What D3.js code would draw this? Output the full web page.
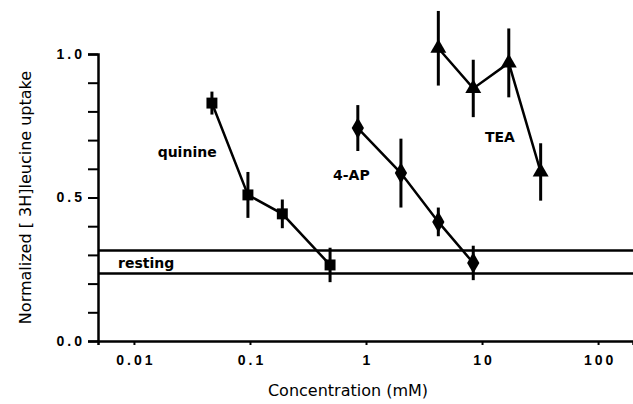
<!DOCTYPE html>
<html>
<head>
<meta charset="utf-8">
<script src="https://cdn.jsdelivr.net/npm/d3@7"></script>
<style>
  body { margin: 0; background: #fff; }
  svg { display: block; font-family: "DejaVu Sans", sans-serif; }
</style>
</head>
<body>
<svg id="chart" width="633" height="404"></svg>
<script>
// data (concentration in mM, normalized uptake)
const quinineConc = [0.047, 0.096, 0.19, 0.49];
const quinineVal  = [0.829, 0.509, 0.443, 0.265];
const quinineErr  = [0.04, 0.08, 0.05, 0.06];

const apConc = [0.85, 2.0, 4.2, 8.4];
const apVal  = [0.742, 0.585, 0.415, 0.272];
const apErr  = [0.08, 0.12, 0.05, 0.06];

const teaConc = [4.2, 8.4, 17, 32];
const teaVal  = [1.02, 0.88, 0.969, 0.589];
const teaErr  = [0.13, 0.10, 0.12, 0.10];

const restingLevels = [0.315, 0.235];

const xTicks = [0.01, 0.1, 1, 10, 100];
const xTickLabels = ['0.01', '0.1', '1', '10', '100'];
const yTicks = [0, 0.1, 0.2, 0.3, 0.4, 0.5, 0.6, 0.7, 0.8, 0.9, 1.0];
const yTickLabels = {0: '0.0', 0.5: '0.5', 1: '1.0'};

// label anchors in data units
const labels = [
  { text: 'quinine', x: 0.016, y: 0.641 },
  { text: '4-AP', x: 0.52, y: 0.561 },
  { text: 'TEA', x: 10.6, y: 0.693 },
  { text: 'resting', x: 0.0073, y: 0.254 }
];

const svg = d3.select('#chart');

const x = d3.scaleLog().domain([0.0049, 200]).range([98, 633]);
const y = d3.scaleLinear().domain([0, 1]).range([341, 54]);

// axes
const xAxis = d3.axisBottom(x)
  .tickValues(xTicks)
  .tickFormat((d, i) => xTickLabels[i])
  .tickSizeOuter(0)
  .tickSize(4)
  .tickPadding(10);

const gx = svg.append('g')
  .attr('transform', 'translate(0,' + y(0) + ')')
  .call(xAxis);
gx.select('.domain').attr('stroke-width', 2.5);
gx.selectAll('.tick line').attr('stroke-width', 2);
gx.selectAll('.tick text')
  .attr('dx', 1.5)
  .style('font-size', '14px')
  .style('font-weight', 'bold')
  .style('letter-spacing', '3px');

const yAxis = d3.axisLeft(y)
  .tickValues(yTicks)
  .tickFormat(d => yTickLabels[d] || '')
  .tickSizeOuter(0)
  .tickSize(10)
  .tickPadding(3);

const gy = svg.append('g')
  .attr('transform', 'translate(' + x.range()[0] + ',0)')
  .call(yAxis);
gy.select('.domain').attr('stroke-width', 2.5);
gy.selectAll('.tick line').attr('stroke-width', 2);
gy.selectAll('.tick text')
  .style('font-size', '14px')
  .style('font-weight', 'bold')
  .style('letter-spacing', '3px');

// axis titles
svg.append('text')
  .attr('x', 348).attr('y', 396)
  .attr('text-anchor', 'middle')
  .style('font-size', '16px')
  .text('Concentration (mM)');

svg.append('text')
  .attr('transform', 'translate(31,' + y(0.5) + ') rotate(-90)')
  .attr('text-anchor', 'middle')
  .style('font-size', '16px')
  .text('Normalized [ 3H]leucine uptake');

// resting band lines
svg.selectAll('line.rest')
  .data(restingLevels)
  .enter()
  .append('line')
  .attr('class', 'rest')
  .attr('x1', x.range()[0]).attr('x2', x.range()[1])
  .attr('y1', d => y(d)).attr('y2', d => y(d))
  .attr('stroke', '#000')
  .attr('stroke-width', 2.5);

const line = d3.line().x(d => x(d.c)).y(d => y(d.v));

function drawSeries(conc, vals, errs, symbol, size) {
  const pts = conc.map((c, i) => ({ c: c, v: vals[i], e: errs[i] }));
  const g = svg.append('g');
  g.append('path')
    .attr('d', line(pts))
    .attr('fill', 'none')
    .attr('stroke', '#000')
    .attr('stroke-width', 2.5);
  g.selectAll('line.err')
    .data(pts)
    .enter()
    .append('line')
    .attr('x1', d => x(d.c)).attr('x2', d => x(d.c))
    .attr('y1', d => y(d.v + d.e)).attr('y2', d => y(d.v - d.e))
    .attr('stroke', '#000')
    .attr('stroke-width', 3);
  g.selectAll('path.mk')
    .data(pts)
    .enter()
    .append('path')
    .attr('d', d3.symbol().type(symbol).size(size))
    .attr('transform', d => 'translate(' + x(d.c) + ',' + y(d.v) + ')')
    .attr('fill', '#000');
}

drawSeries(quinineConc, quinineVal, quinineErr, d3.symbolSquare, 120);
drawSeries(apConc, apVal, apErr, d3.symbolDiamond, 130);
drawSeries(teaConc, teaVal, teaErr, d3.symbolTriangle, 110);

svg.selectAll('text.lbl')
  .data(labels)
  .enter()
  .append('text')
  .attr('class', 'lbl')
  .attr('x', d => x(d.x))
  .attr('y', d => y(d.y))
  .style('font-size', '14px')
  .style('font-weight', 'bold')
  .text(d => d.text);
</script>
</body>
</html>
